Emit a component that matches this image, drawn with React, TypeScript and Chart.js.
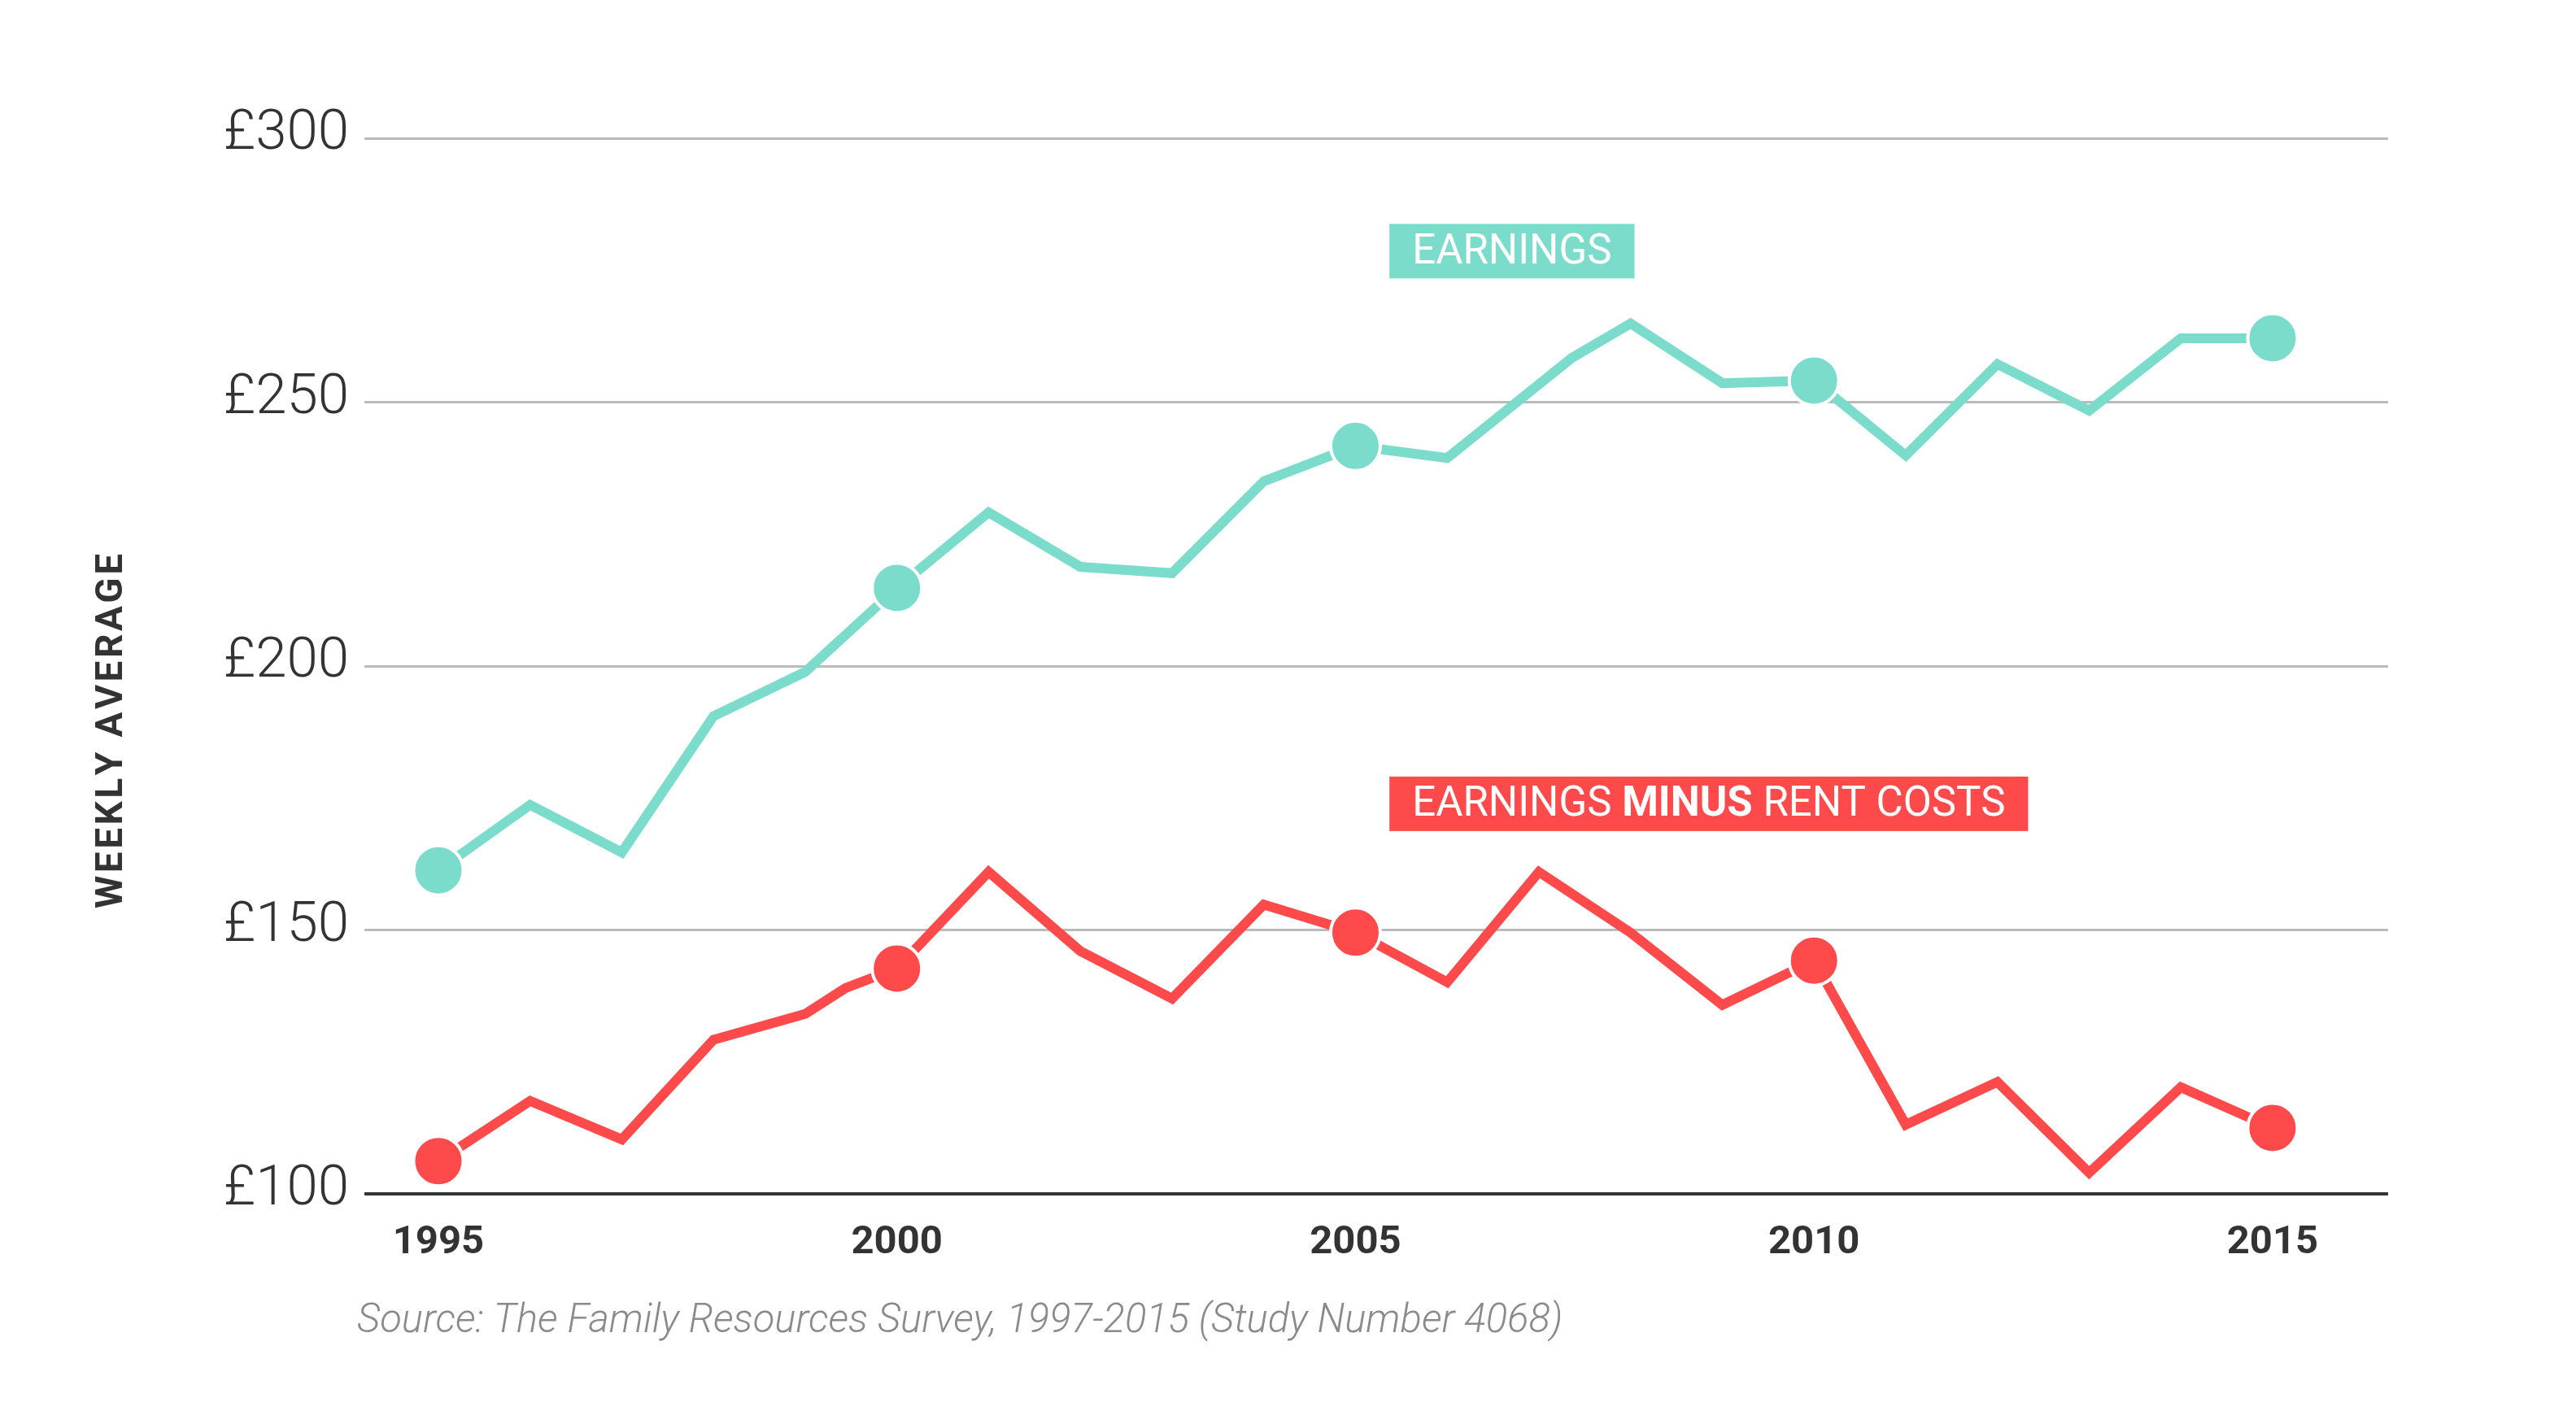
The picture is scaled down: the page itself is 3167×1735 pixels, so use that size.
import React, { useEffect, useRef } from "react";
import { Chart, registerables } from "chart.js";

Chart.register(...registerables);

// ---- data ----
const earningsYears = [1995, 1996, 1997, 1998, 1999, 2000, 2001, 2002, 2003, 2004, 2005, 2006, 2007.36, 2008, 2009, 2010, 2011, 2012, 2013, 2014, 2015];
const earningsValues = [161.3, 173.7, 164.7, 190.5, 198.9, 214.8, 229.1, 218.8, 217.6, 235.0, 241.7, 239.4, 258.4, 264.9, 253.6, 254.1, 239.9, 257.2, 248.4, 262.1, 262.1];

const netYears = [1995, 1996, 1997, 1998, 1999, 1999.44, 2000, 2001, 2002, 2003, 2004, 2005, 2006, 2007, 2008, 2009, 2010, 2011, 2012, 2013, 2014, 2015];
const netValues = [106.2, 117.6, 110.3, 129.2, 134.1, 139.0, 142.7, 161.0, 146.0, 137.0, 154.8, 149.5, 140.1, 161.0, 149.5, 135.8, 144.2, 113.1, 121.2, 104.0, 120.2, 112.5];

const markerYears = [1995, 2000, 2005, 2010, 2015];
const xTickYears = [1995, 2000, 2005, 2010, 2015];
const yTickValues = [100, 150, 200, 250, 300];

const yAxisTitle = "WEEKLY AVERAGE";
const sourceText = "Source: The Family Resources Survey, 1997-2015 (Study Number 4068)";

const TEAL = "#7BDCCB";
const RED = "#FF4A4C";
const DARK = "#333333";

const seriesLabels = [
  { parts: [{ t: "EARNINGS", bold: false }], color: TEAL, x: 2005.37, y: 278.6 },
  {
    parts: [
      { t: "EARNINGS ", bold: false },
      { t: "MINUS", bold: true },
      { t: " RENT COSTS", bold: false },
    ],
    color: RED,
    x: 2005.37,
    y: 173.9,
  },
];

const FONT = "Roboto";

const annotationPlugin = {
  id: "annotations",
  afterDraw(chart: any) {
    const { ctx, chartArea, scales } = chart;
    const xs = scales.x;
    const ys = scales.y;

    // series label boxes
    const boxH = 67;
    const padX = 28;
    const fs = 51;
    for (const lab of seriesLabels) {
      ctx.save();
      let tw = 0;
      const widths: number[] = [];
      for (const p of lab.parts) {
        ctx.font = `${p.bold ? "bold" : "normal"} ${fs}px ${FONT}`;
        const w = ctx.measureText(p.t).width;
        widths.push(w);
        tw += w;
      }
      const left = xs.getPixelForValue(lab.x);
      const cy = ys.getPixelForValue(lab.y);
      ctx.fillStyle = lab.color;
      ctx.fillRect(left, cy - boxH / 2, tw + padX * 2, boxH);
      ctx.fillStyle = "#ffffff";
      ctx.textBaseline = "middle";
      ctx.textAlign = "left";
      let cx = left + padX;
      lab.parts.forEach((p, i) => {
        ctx.font = `${p.bold ? "bold" : "normal"} ${fs}px ${FONT}`;
        ctx.fillText(p.t, cx, cy + 2);
        cx += widths[i];
      });
      ctx.restore();
    }

    // y axis title, rotated, letter-spaced
    ctx.save();
    const tfs = 46;
    const spacing = 3.5;
    ctx.font = `bold ${tfs}px ${FONT}`;
    const chars = yAxisTitle.split("");
    const cw = chars.map((c) => ctx.measureText(c).width);
    const total = cw.reduce((a, b) => a + b, 0) + spacing * (chars.length - 1);
    const tx = chartArea.left - 310;
    const ty = chartArea.top + (chartArea.bottom - chartArea.top) * 0.5616;
    ctx.translate(tx, ty);
    ctx.rotate(-Math.PI / 2);
    ctx.fillStyle = DARK;
    ctx.textBaseline = "middle";
    ctx.textAlign = "left";
    let px = -total / 2;
    chars.forEach((c, i) => {
      ctx.fillText(c, px, 0);
      px += cw[i] + spacing;
    });
    ctx.restore();

    // source
    ctx.save();
    ctx.font = `italic 300 49px ${FONT}`;
    ctx.fillStyle = "#8a8a8a";
    ctx.textBaseline = "alphabetic";
    ctx.textAlign = "left";
    ctx.fillText(sourceText, chartArea.left - 9, chartArea.bottom + 170);
    ctx.restore();
  },
};

export default function App() {
  const ref = useRef<HTMLCanvasElement | null>(null);

  useEffect(() => {
    if (!ref.current) return;
    Chart.defaults.font.family = FONT;
    const isMarker = (c: any) => c.raw && markerYears.includes(c.raw.x);
    const chart = new Chart(ref.current, {
      type: "line",
      data: {
        datasets: [
          {
            label: "Earnings",
            data: earningsYears.map((x, i) => ({ x, y: earningsValues[i] })),
            borderColor: TEAL,
            borderWidth: 12,
            backgroundColor: TEAL,
            pointBackgroundColor: TEAL,
            pointBorderColor: "#ffffff",
            pointBorderWidth: 4,
            pointRadius: (c: any) => (isMarker(c) ? 30.5 : 0),
            pointHoverRadius: (c: any) => (isMarker(c) ? 30.5 : 0),
            fill: false,
            tension: 0,
            clip: false,
          } as any,
          {
            label: "Earnings minus rent costs",
            data: netYears.map((x, i) => ({ x, y: netValues[i] })),
            borderColor: RED,
            borderWidth: 12,
            backgroundColor: RED,
            pointBackgroundColor: RED,
            pointBorderColor: "#ffffff",
            pointBorderWidth: 4,
            pointRadius: (c: any) => (isMarker(c) ? 30.5 : 0),
            pointHoverRadius: (c: any) => (isMarker(c) ? 30.5 : 0),
            fill: false,
            tension: 0,
            clip: false,
          } as any,
        ],
      },
      options: {
        responsive: false,
        animation: false,
        devicePixelRatio: 1,
        events: [],
        layout: { padding: { left: 0, right: 231, top: 170, bottom: 167 } },
        plugins: {
          legend: { display: false },
          tooltip: { enabled: false },
          title: { display: false },
        },
        scales: {
          x: {
            type: "linear",
            min: 1994.193,
            max: 2016.26,
            afterBuildTicks: (s: any) => {
              s.ticks = xTickYears.map((v) => ({ value: v }));
            },
            afterFit: (s: any) => {
              s.height = 100;
            },
            grid: { display: false, drawTicks: false },
            border: { display: false },
            ticks: {
              callback: (v: any) => String(v),
              font: { family: FONT, size: 49, weight: "bold" },
              color: DARK,
              padding: 31,
              maxRotation: 0,
              autoSkip: false,
            },
          },
          y: {
            type: "linear",
            min: 100,
            max: 300,
            afterBuildTicks: (s: any) => {
              s.ticks = yTickValues.map((v) => ({ value: v }));
            },
            afterFit: (s: any) => {
              s.width = 448;
            },
            grid: {
              color: (c: any) => (c.tick && c.tick.value === 100 ? DARK : "#bbbbbb"),
              lineWidth: (c: any) => (c.tick && c.tick.value === 100 ? 4 : 3),
              drawTicks: false,
            },
            border: { display: false },
            ticks: {
              callback: (v: any) => "£" + v,
              font: { family: FONT, size: 69, weight: 300 },
              color: DARK,
              padding: 19,
              labelOffset: -4,
            },
          },
        },
      } as any,
      plugins: [annotationPlugin],
    });
    return () => chart.destroy();
  }, []);

  return (
    <div style={{ position: "fixed", left: 0, top: 0, width: 3167, height: 1735, background: "#fff" }}>
      <canvas ref={ref} width={3167} height={1735} style={{ display: "block" }} />
    </div>
  );
}
